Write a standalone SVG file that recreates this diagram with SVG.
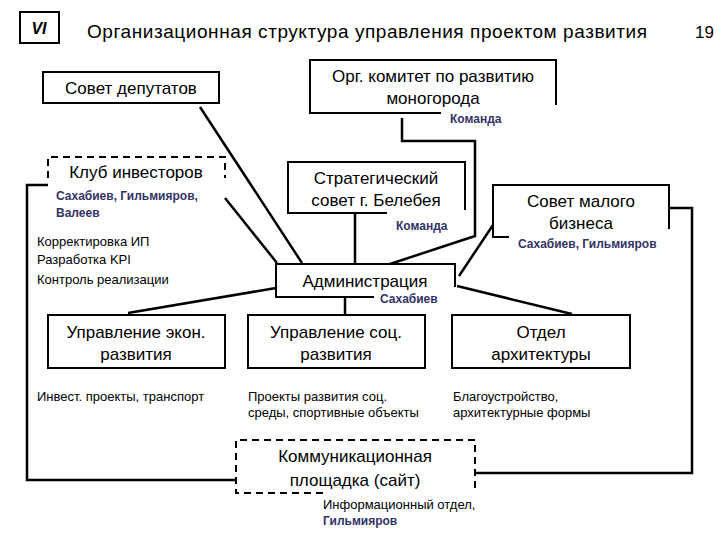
<svg xmlns="http://www.w3.org/2000/svg" width="720" height="540" viewBox="0 0 720 540">
<style>
text{font-family:"Liberation Sans",Arial,sans-serif;fill:#000}
.b{fill:none;stroke:#000;stroke-width:2}
.d{fill:none;stroke:#000;stroke-width:2;stroke-dasharray:7,5}
.c{fill:none;stroke:#000;stroke-width:2.5}
.t{font-size:17px;text-anchor:middle}
.s{font-size:13px}
.n{font-size:12px;font-weight:bold;fill:#333366}
</style>
<rect width="720" height="540" fill="#fff"/>
<g id="header">
<rect x="20" y="12" width="39" height="31" class="b"/>
<text x="39" y="34" font-size="16" font-weight="bold" font-style="italic" text-anchor="middle">VI</text>
<text x="87" y="38" font-size="19" textLength="560">Организационная структура управления проектом развития</text>
<text x="695" y="38" font-size="17">19</text>
</g>
<g id="connectors">
<polyline class="c" points="402,118 402,141 475,141 475,236 390,264"/>
<line class="c" x1="200" y1="107" x2="302" y2="263"/>
<line class="c" x1="225" y1="198" x2="277" y2="263"/>
<line class="c" x1="355" y1="214" x2="355" y2="263"/>
<line class="c" x1="493" y1="225" x2="459" y2="276"/>
<polyline class="c" points="48,185 27,185 27,480 235,480"/>
<polyline class="c" points="669,208 692,208 692,473 475,473"/>
<line class="c" x1="276" y1="288" x2="128" y2="313"/>
<line class="c" x1="457" y1="286" x2="572" y2="314"/>
<line class="c" x1="345" y1="298" x2="345" y2="315"/>
</g>
<g id="sovet-deputatov">
<rect x="43" y="72" width="176" height="31" class="b"/>
<text x="131" y="94" class="t">Совет депутатов</text>
</g>
<g id="org-komitet">
<polyline class="b" points="441,113 310,113 310,60 556,60 556,105"/>
<text x="433" y="82" class="t">Орг. комитет по развитию</text>
<text x="433" y="104" class="t">моногорода</text>
<text x="450" y="123" class="n">Команда</text>
</g>
<g id="klub">
<polyline class="d" points="48,178 48,157 225,157 225,178"/>
<text x="136" y="178" class="t">Клуб инвесторов</text>
<text x="56" y="200" class="n">Сахабиев, Гильмияров,</text>
<text x="56" y="217" class="n">Валеев</text>
<text x="37" y="246" class="s">Корректировка ИП</text>
<text x="37" y="264" class="s">Разработка KPI</text>
<text x="37" y="284" class="s">Контроль реализации</text>
</g>
<g id="strategic">
<polyline class="b" points="387,213 288,213 288,162 465,162 465,210"/>
<text x="376" y="184" class="t">Стратегический</text>
<text x="376" y="206" class="t">совет г. Белебея</text>
<text x="396" y="230" class="n">Команда</text>
</g>
<g id="small-business">
<polyline class="b" points="509,237 493,237 493,185 669,185 669,229"/>
<text x="581" y="207" class="t">Совет малого</text>
<text x="581" y="229" class="t">бизнеса</text>
<text x="518" y="248" class="n">Сахабиев, Гильмияров</text>
</g>
<g id="administration">
<polyline class="b" points="374,297 276,297 276,264 455,264 455,287"/>
<text x="365" y="287" class="t">Администрация</text>
<text x="380" y="303" class="n">Сахабиев</text>
</g>
<g id="econ">
<rect x="48" y="315" width="177" height="53" class="b"/>
<text x="136" y="338" class="t">Управление экон.</text>
<text x="136" y="360" class="t">развития</text>
<text x="37" y="401" class="s">Инвест. проекты, транспорт</text>
</g>
<g id="soc">
<rect x="248" y="315" width="177" height="53" class="b"/>
<text x="336" y="338" class="t">Управление соц.</text>
<text x="336" y="360" class="t">развития</text>
<text x="248" y="401" class="s">Проекты развития соц.</text>
<text x="248" y="417" class="s">среды, спортивные объекты</text>
</g>
<g id="arch">
<rect x="452" y="315" width="178" height="53" class="b"/>
<text x="541" y="338" class="t">Отдел</text>
<text x="541" y="360" class="t">архитектуры</text>
<text x="453" y="401" class="s">Благоустройство,</text>
<text x="453" y="417" class="s">архитектурные формы</text>
</g>
<g id="comm">
<polyline class="d" points="323,493 236,493 236,440 475,440 475,493"/>
<text x="355" y="462" class="t">Коммуникационная</text>
<text x="355" y="486" class="t">площадка (сайт)</text>
<text x="323" y="509" class="s">Информационный отдел,</text>
<text x="323" y="525" class="n">Гильмияров</text>
</g>
</svg>
